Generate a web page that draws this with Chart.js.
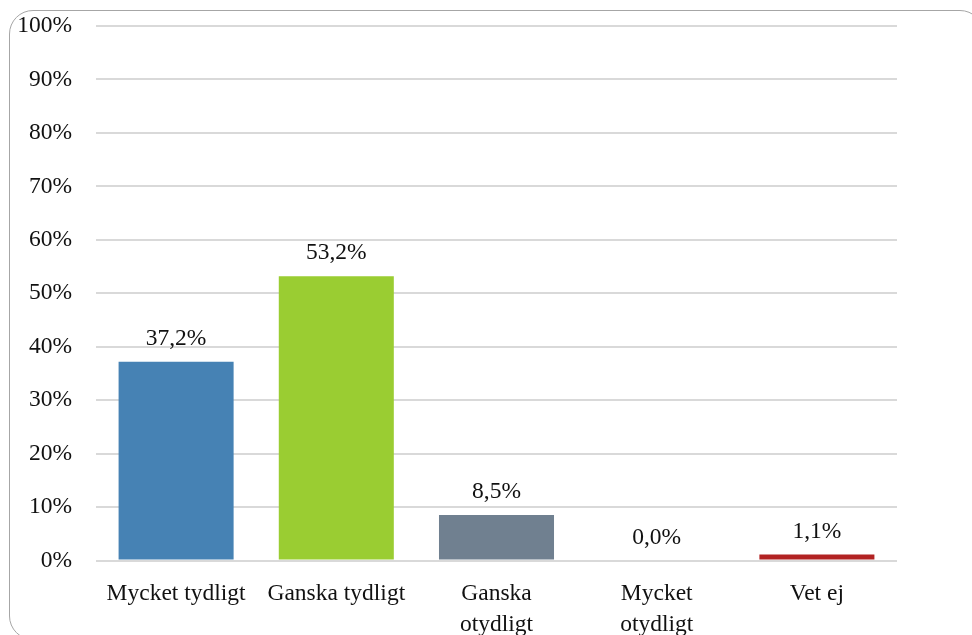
<!DOCTYPE html>
<html>
<head>
<meta charset="utf-8">
<script src="https://cdn.jsdelivr.net/npm/chart.js@4"></script>
<style>
  html, body { margin: 0; padding: 0; background: #fff; overflow: hidden; }
  #wrap { position: relative; width: 972px; height: 635px; overflow: hidden; }
  #frame {
    position: absolute; left: 9px; top: 10px; width: 975px; height: 630px;
    border: 1.5px solid #a6a6a6; border-radius: 24px; box-sizing: border-box;
  }
  #chart { position: absolute; left: 0; top: 0; }
</style>
</head>
<body>
<div id="wrap">
  <div id="frame"></div>
  <canvas id="chart" width="972" height="635"></canvas>
</div>
<script>
// ── Data ─────────────────────────────────────────────────────
const categories = [
  'Mycket tydligt',
  'Ganska tydligt',
  ['Ganska', 'otydligt'],
  ['Mycket', 'otydligt'],
  'Vet ej'
];
const shares    = [37.2, 53.2, 8.5, 0.0, 1.1];
const barColors = ['#4682b4', '#9acd32', '#708090', '#708090', '#b22222'];
const yTicks    = [0, 10, 20, 30, 40, 50, 60, 70, 80, 90, 100];

const FONT = { family: '"Liberation Serif", "DejaVu Serif", serif', size: 23.5 };

// Value labels above each bar (no datalabels plugin offline)
const valueLabels = {
  id: 'valueLabels',
  afterDatasetsDraw(chart) {
    const { ctx } = chart;
    const meta = chart.getDatasetMeta(0);
    ctx.save();
    ctx.font = `${FONT.size}px ${FONT.family}`;
    ctx.fillStyle = '#111';
    ctx.textAlign = 'center';
    ctx.textBaseline = 'middle';
    meta.data.forEach((bar, i) => {
      const txt = shares[i].toFixed(1).replace('.', ',') + '%';
      ctx.fillText(txt, bar.x, bar.y - 23);
    });
    ctx.restore();
  }
};

new Chart(document.getElementById('chart'), {
  type: 'bar',
  data: {
    labels: categories,
    datasets: [{
      data: shares,
      backgroundColor: barColors,
      borderWidth: 0,
      barPercentage: 0.718,
      categoryPercentage: 1
    }]
  },
  options: {
    responsive: false,
    animation: false,
    layout: { padding: { left: 0, right: 75, top: 26, bottom: 0 } },
    plugins: { legend: { display: false }, tooltip: { enabled: false } },
    scales: {
      x: {
        grid: { display: false },
        border: { display: false },
        ticks: {
          color: '#111', font: { ...FONT, lineHeight: 1.35 },
          maxRotation: 0, autoSkip: false, padding: 9
        },
        afterFit(scale) { scale.height = 74.5; }
      },
      y: {
        min: 0, max: 100,
        afterBuildTicks(scale) { scale.ticks = yTicks.map(v => ({ value: v })); },
        grid: { color: '#d9d9d9', lineWidth: 2, drawTicks: false },
        border: { display: false },
        ticks: {
          color: '#111', font: FONT, padding: 24,
          callback: v => v + '%'
        },
        afterFit(scale) {
          scale.width = 96;
          scale.paddingTop = 0;
          scale.paddingBottom = 0;
        }
      }
    }
  },
  plugins: [valueLabels]
});
</script>
</body>
</html>
